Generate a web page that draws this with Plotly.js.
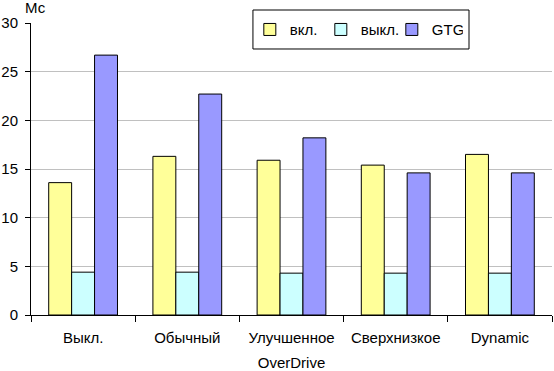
<!DOCTYPE html>
<html><head><meta charset="utf-8">
<script src="https://cdn.plot.ly/plotly-3.0.1.min.js"></script>
<style>body{margin:0;background:#fff}</style>
</head><body>
<div id="chart" style="width:554px;height:371px"></div>
<script>
const categories = ["Выкл.", "Обычный", "Улучшенное", "Сверхнизкое", "Dynamic"];
const seriesNames = ["вкл.", "выкл.", "GTG"];
const onValues = [13.6, 16.3, 15.9, 15.4, 16.5];
const offValues = [4.4, 4.4, 4.3, 4.3, 4.3];
const gtgValues = [26.7, 22.7, 18.2, 14.6, 14.6];
const colors = ["#FFFF99", "#CCFFFF", "#9999FF"];

const allValues = [onValues, offValues, gtgValues];
const traces = allValues.map((vals, i) => ({
  type: "bar",
  name: seriesNames[i],
  x: categories,
  y: vals,
  marker: {color: colors[i], line: {color: "#000", width: 1}},
  hoverinfo: "skip"
}));

const font = {family: "Liberation Sans, Arial, sans-serif", size: 15, color: "#000"};
const layout = {
  width: 554, height: 371,
  margin: {l: 31, r: 2, t: 23, b: 56, autoexpand: false},
  paper_bgcolor: "#fff", plot_bgcolor: "#fff",
  font: font,
  barmode: "group", bargap: 0.34, bargroupgap: 0,
  showlegend: true,
  legend: {
    orientation: "h", x: 0.42, y: 0.977, xanchor: "left", yanchor: "middle",
    borderwidth: 0, bgcolor: "rgba(0,0,0,0)",
    font: font, traceorder: "normal", itemwidth: 30,
    entrywidth: 26, entrywidthmode: "pixels"
  },
  xaxis: {
    type: "category", automargin: false,
    tickson: "boundaries", ticks: "outside", ticklen: 6, tickcolor: "#000",
    showline: true, linecolor: "#000", linewidth: 1,
    showgrid: false, tickangle: 0, ticklabelstandoff: 9,
    title: {text: "OverDrive", font: font, standoff: 15},
    tickfont: font
  },
  yaxis: {
    range: [0, 30], dtick: 5, tick0: 0, automargin: false,
    ticks: "outside", ticklen: 5, tickcolor: "#000",
    showline: true, linecolor: "#000", linewidth: 1,
    showgrid: true, gridcolor: "#c0c0c0", gridwidth: 1,
    zeroline: false, ticklabelstandoff: 4,
    tickfont: font
  },
  shapes: [{
    type: "rect", xref: "paper", yref: "paper", layer: "above",
    x0: 0.426, x1: 0.8407, y0: 0.911, y1: 1.0445,
    line: {color: "#000", width: 1}, fillcolor: "#fff"
  }],
  annotations: [{
    text: "Мс", xref: "paper", yref: "paper", x: -0.016, y: 1.089,
    xanchor: "left", yanchor: "top", showarrow: false, font: font
  }]
};
Plotly.newPlot("chart", traces, layout, {displayModeBar: false, staticPlot: true});
</script>
</body></html>
